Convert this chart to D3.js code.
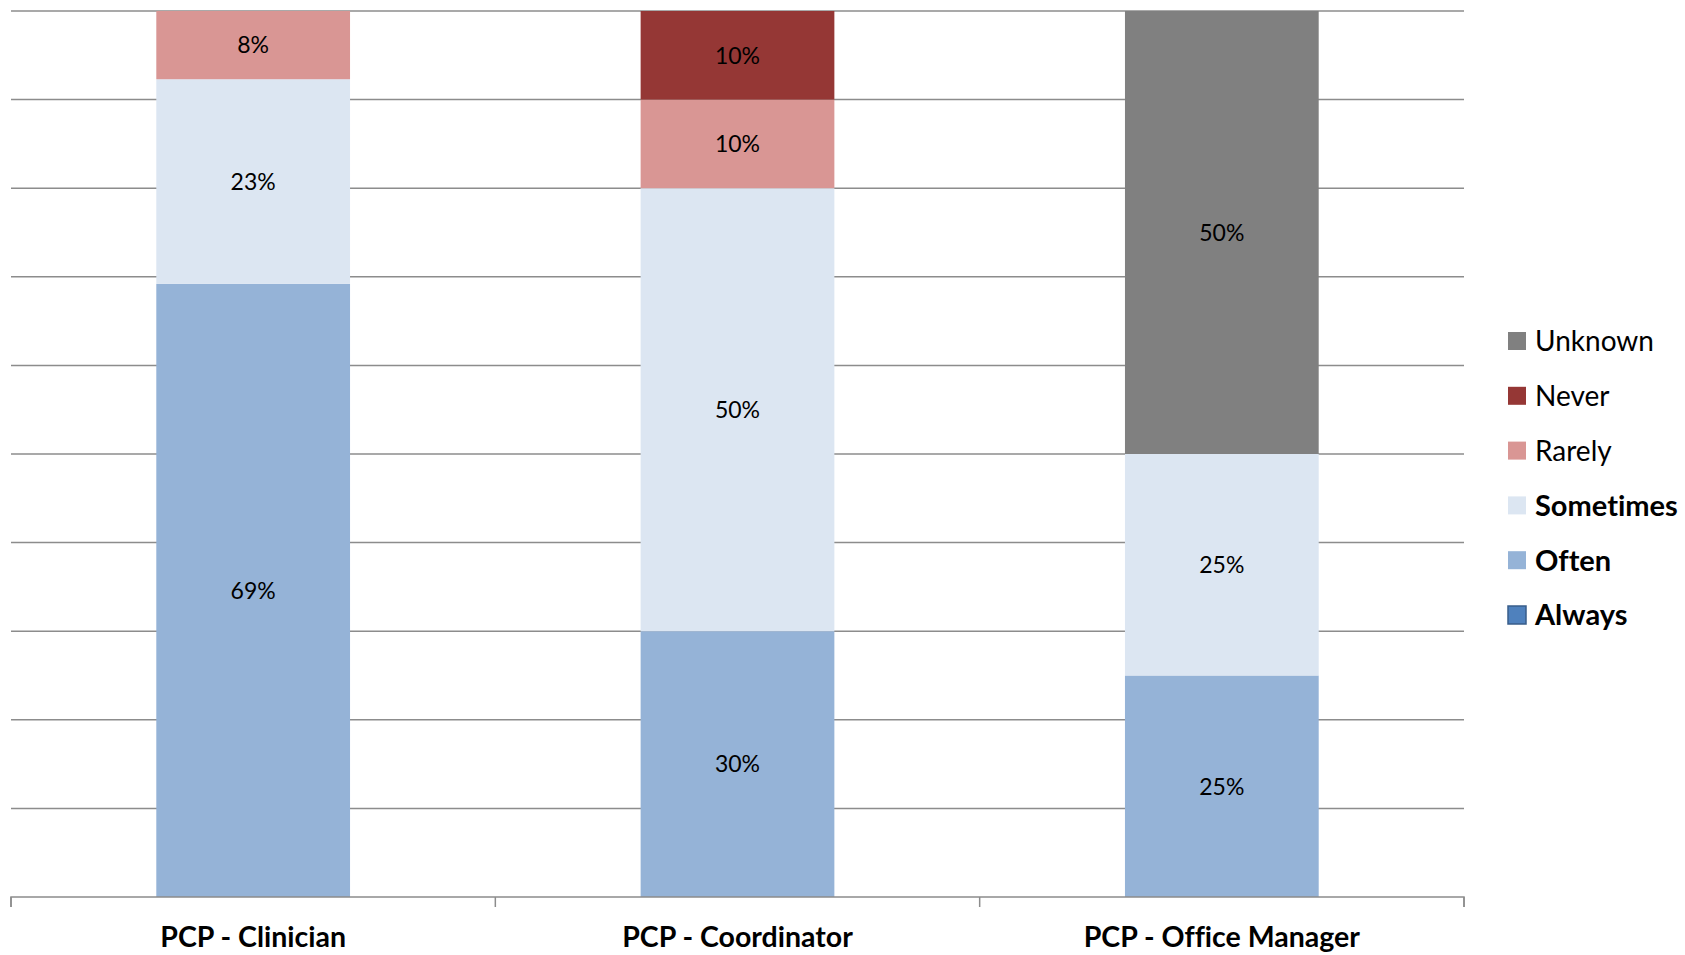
<!DOCTYPE html>
<html><head><meta charset="utf-8">
<script src="https://cdn.jsdelivr.net/npm/d3@7"></script>
<style>body{margin:0;background:#fff}svg{display:block}text{font-variant-ligatures:none;font-feature-settings:"liga" 0}</style>
</head><body>
<svg id="chart" width="1685" height="955"></svg>
<script>
const categories = ["PCP - Clinician", "PCP - Coordinator", "PCP - Office Manager"];
const seriesNames = ["Always", "Often", "Sometimes", "Rarely", "Never", "Unknown"];
const always    = [0, 0, 0];
const often     = [69.2, 30, 25];
const sometimes = [23.1, 50, 25];
const rarely    = [7.7, 10, 0];
const never     = [0, 10, 0];
const unknown   = [0, 0, 50];
const yTicks = [0,10,20,30,40,50,60,70,80,90,100];
const colors = ["#4F81BD", "#95B3D7", "#DCE6F2", "#D99694", "#953735", "#808080"];
const boldLegend = {"Always": true, "Often": true, "Sometimes": true};

(function(){
const seriesValues = [always, often, sometimes, rarely, never, unknown];
const table = categories.map((c, i) => {
  const row = {cat: c};
  seriesNames.forEach((s, j) => row[s] = seriesValues[j][i]);
  return row;
});

const svg = d3.select("#chart");
const font = "Lato, 'Open Sans', sans-serif";
const pLeft = 11, pRight = 1464, pTop = 11, pBottom = 897;

const x = d3.scaleBand().domain(categories).range([pLeft, pRight]).paddingInner(0.6).paddingOuter(0.3);
const xb = d3.scaleBand().domain(categories).range([pLeft, pRight]);
const y = d3.scaleLinear().domain([0, 100]).range([pBottom, pTop]);

// gridlines
svg.append("g").selectAll("line").data(yTicks.filter(d => d > 0)).join("line")
  .attr("x1", pLeft).attr("x2", pRight)
  .attr("y1", d => y(d)).attr("y2", d => y(d))
  .attr("stroke", "#8c8c8c").attr("stroke-width", 1.5);

const stack = d3.stack().keys(seriesNames)(table);

const g = svg.append("g");
stack.forEach((layer, j) => {
  g.selectAll(null).data(layer).join("rect")
    .attr("x", d => x(d.data.cat))
    .attr("width", x.bandwidth())
    .attr("y", d => y(d[1]))
    .attr("height", d => y(d[0]) - y(d[1]))
    .attr("fill", colors[j]);
});
stack.forEach((layer, j) => {
  g.selectAll(null).data(layer.filter(d => d[1] - d[0] > 0)).join("text")
    .attr("x", d => x(d.data.cat) + x.bandwidth() / 2)
    .attr("y", d => (y(d[0]) + y(d[1])) / 2)
    .attr("dy", "0.36em")
    .attr("text-anchor", "middle")
    .attr("font-family", font).attr("font-size", 23)
    .attr("fill", "#000")
    .text(d => Math.round(d[1] - d[0]) + "%");
});

// x axis
const axis = svg.append("g").attr("transform", `translate(0,${pBottom})`)
  .call(d3.axisBottom(xb).tickSize(0).tickFormat(""));
axis.select(".domain").attr("stroke", "#8c8c8c").attr("stroke-width", 1.5)
  .attr("d", `M${pLeft},10V0H${pRight}V10`);
const bounds = [pLeft, ...categories.slice(1).map(c => xb(c)), pRight];
svg.append("g").selectAll("line").data(bounds).join("line")
  .attr("x1", d => d).attr("x2", d => d)
  .attr("y1", pBottom).attr("y2", pBottom + 10)
  .attr("stroke", "#8c8c8c").attr("stroke-width", 1.5);

svg.append("g").selectAll("text").data(categories).join("text")
  .attr("x", d => xb(d) + xb.bandwidth() / 2)
  .attr("y", 947)
  .attr("text-anchor", "middle")
  .attr("font-family", font).attr("font-size", 28.5).attr("font-weight", "bold")
  .attr("fill", "#000")
  .text(d => d);

// legend
const legendOrder = seriesNames.slice().reverse();
const leg = svg.append("g").selectAll("g").data(legendOrder).join("g")
  .attr("transform", (d, i) => `translate(1508,${341 + i * 54.8})`);
leg.append("rect").attr("x", 0).attr("y", -9).attr("width", 18).attr("height", 18)
  .attr("fill", d => colors[seriesNames.indexOf(d)])
  .attr("stroke", d => d === "Always" ? "#385D8A" : "none").attr("stroke-width", 1.5);
leg.append("text").attr("x", 27).attr("dy", "0.36em")
  .attr("font-family", font)
  .attr("font-size", d => boldLegend[d] ? 29 : 28)
  .attr("font-weight", d => boldLegend[d] ? "bold" : "normal")
  .attr("fill", "#000")
  .text(d => d);
})();
</script>
</body></html>
